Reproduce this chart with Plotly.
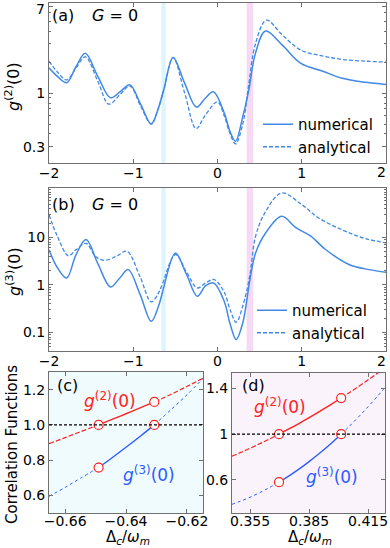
import plotly.graph_objects as go

# ---- panel (a): g2(0), G = 0 ----
a_num_x = [-2, -1.9, -1.79, -1.68, -1.57, -1.42, -1.27, -1.15, -1.04, -0.91, -0.786, -0.70,
           -0.649, -0.631, -0.527, -0.39, -0.25, -0.15, -0.05, 0.08, 0.15, 0.214, 0.30, 0.37,
           0.45, 0.571, 0.77, 0.99, 1.25, 1.48, 1.76, 2.0]
a_num_y = [1.76, 1.45, 1.26, 1.8, 2.43, 1.45, 0.90, 1.04, 1.2, 0.77, 0.5, 0.72,
           1.0, 1.13, 2.22, 1.25, 0.73, 0.88, 1.03, 0.64, 0.42, 0.34, 0.59, 1.05,
           2.43, 4.0, 2.92, 1.94, 1.63, 1.39, 1.27, 1.21]
a_ana_x = [-2, -1.9, -1.79, -1.68, -1.57, -1.42, -1.29, -1.15, -1.04, -0.91, -0.786, -0.70,
           -0.649, -0.631, -0.527, -0.39, -0.254, -0.15, 0.0, 0.08, 0.15, 0.214, 0.30, 0.37,
           0.45, 0.58, 0.77, 0.99, 1.25, 1.48, 1.76, 2.0]
a_ana_y = [2.04, 1.6, 1.34, 1.75, 2.25, 1.3, 0.78, 0.98, 1.17, 0.74, 0.5, 0.72,
           1.0, 1.13, 2.22, 1.0, 0.45, 0.6, 0.82, 0.6, 0.4, 0.32, 0.5, 1.2,
           3.0, 5.1, 3.66, 2.61, 2.29, 2.12, 2.04, 2.0]

# ---- panel (b): g3(0), G = 0 ----
b_num_x = [-2, -1.9, -1.79, -1.68, -1.56, -1.42, -1.27, -1.16, -1.06, -0.92, -0.786, -0.70,
           -0.649, -0.631, -0.5, -0.37, -0.24, -0.14, -0.045, 0.08, 0.15, 0.222, 0.30, 0.385,
           0.452, 0.571, 0.762, 0.93, 1.107, 1.286, 1.56, 1.8, 2.0]
b_num_y = [5.5, 2.3, 1.4, 4.3, 9.0, 2.8, 0.91, 1.4, 2.1, 0.64, 0.172, 0.36,
           0.75, 1.0, 4.7, 1.7, 0.58, 0.97, 1.1, 0.45, 0.15, 0.071, 0.16, 1.3,
           4.7, 12.4, 27.9, 16, 10.6, 5.5, 2.7, 2.1, 1.85]
b_ana_x = [-2, -1.9, -1.77, -1.68, -1.56, -1.45, -1.35, -1.2, -1.075, -0.92, -0.786, -0.70,
           -0.65, -0.5, -0.37, -0.24, -0.14, -0.04, 0.08, 0.15, 0.222, 0.30, 0.385,
           0.452, 0.571, 0.762, 1.0, 1.2, 1.5, 1.75, 2.0]
b_ana_y = [30, 10.5, 4.1, 5.5, 7.5, 4.0, 3.3, 4.0, 5.1, 1.5, 0.44, 0.68,
           1.1, 4.35, 1.9, 0.865, 1.1, 1.3, 0.7, 0.3, 0.164, 0.36, 1.65,
           10.6, 35, 86, 49, 25.7, 13.9, 9.5, 7.7]

# ---- panel (c): zoom near the cyan band ----
c_x = [-0.6653, -0.66, -0.655, -0.649, -0.645, -0.64, -0.635, -0.6307, -0.625, -0.62, -0.6147]
c_g2 = [0.893, 0.928, 0.961, 1.0, 1.028, 1.063, 1.099, 1.13, 1.175, 1.218, 1.264]
c_g3 = [0.595, 0.645, 0.697, 0.758, 0.808, 0.873, 0.94, 1.0, 1.09, 1.17, 1.264]
c_marks = [-0.649, -0.6307]

# ---- panel (d): zoom near the pink band ----
d_x = [0.3458, 0.35, 0.355, 0.36, 0.365, 0.3697, 0.375, 0.38, 0.385, 0.39, 0.395,
       0.4013, 0.405, 0.41, 0.415, 0.42, 0.4236]
d_g2 = [0.807, 0.838, 0.877, 0.917, 0.959, 1.0, 1.048, 1.095, 1.144, 1.195, 1.248,
        1.316, 1.358, 1.415, 1.475, 1.536, 1.581]
d_g3 = [0.386, 0.413, 0.448, 0.489, 0.534, 0.58, 0.637, 0.696, 0.76, 0.828, 0.901,
        1.0, 1.061, 1.148, 1.24, 1.336, 1.408]
d_marks = [0.3697, 0.4013]

BLUE = '#4189e6'
RED = '#ff2222'
DBLUE = '#2c5cff'
FONT = 'DejaVu Sans'
W, H = 390, 548


def px(x):
    return x / W


def py(y):
    return 1 - y / H


fig = go.Figure()

# (a)
fig.add_trace(go.Scatter(x=a_num_x, y=a_num_y, mode='lines', line=dict(color=BLUE, width=1.5, shape='spline'),
                         name='numerical', xaxis='x', yaxis='y', legend='legend'))
fig.add_trace(go.Scatter(x=a_ana_x, y=a_ana_y, mode='lines', line=dict(color=BLUE, width=1.3, dash='4px,2px', shape='spline'),
                         name='analytical', xaxis='x', yaxis='y', legend='legend'))
# (b)
fig.add_trace(go.Scatter(x=b_num_x, y=b_num_y, mode='lines', line=dict(color=BLUE, width=1.5, shape='spline'),
                         name='numerical', xaxis='x2', yaxis='y2', legend='legend2'))
fig.add_trace(go.Scatter(x=b_ana_x, y=b_ana_y, mode='lines', line=dict(color=BLUE, width=1.3, dash='4px,2px', shape='spline'),
                         name='analytical', xaxis='x2', yaxis='y2', legend='legend2'))


def zoom_panel(xs, g2, g3, marks, xa, ya):
    lo, hi = marks
    segs = [
        ([v for v in xs if v <= lo], 'outer'),
        ([v for v in xs if lo <= v <= hi], 'inner'),
        ([v for v in xs if v >= hi], 'outer'),
    ]
    for seg, kind in segs:
        idx = [xs.index(v) for v in seg]
        fig.add_trace(go.Scatter(
            x=seg, y=[g2[i] for i in idx], mode='lines', showlegend=False, xaxis=xa, yaxis=ya,
            line=dict(color=RED, width=1.4 if kind == 'inner' else 1.2,
                      dash='solid' if kind == 'inner' else '5px,2px', shape='spline')))
        fig.add_trace(go.Scatter(
            x=seg, y=[g3[i] for i in idx], mode='lines', showlegend=False, xaxis=xa, yaxis=ya,
            line=dict(color=DBLUE, width=1.4 if kind == 'inner' else 1.0,
                      dash='solid' if kind == 'inner' else 'dot', shape='spline')))
    mx = [marks[0], marks[1], marks[0], marks[1]]
    my = [g2[xs.index(marks[0])], g2[xs.index(marks[1])], g3[xs.index(marks[0])], g3[xs.index(marks[1])]]
    fig.add_trace(go.Scatter(x=mx, y=my, mode='markers', showlegend=False, xaxis=xa, yaxis=ya,
                             marker=dict(symbol='circle', size=9, color='white',
                                         line=dict(color=RED, width=1.2))))


zoom_panel(c_x, c_g2, c_g3, c_marks, 'x3', 'y3')
zoom_panel(d_x, d_g2, d_g3, d_marks, 'x4', 'y4')

axis_style = dict(showline=True, linecolor='#707070', linewidth=1, mirror='allticks', ticks='inside',
                  ticklen=4, tickcolor='#707070', showgrid=False, zeroline=False, automargin=False,
                  tickfont=dict(family=FONT, size=14, color='black'))
xstyle = dict(axis_style, ticklabelstandoff=-3)
xstyle_low = dict(axis_style, ticklabelstandoff=-5)

dom_ab = [px(49), px(386)]
fig.update_layout(
    template='none',
    width=W, height=H, margin=dict(l=0, r=0, t=0, b=0, pad=0),
    paper_bgcolor='white', plot_bgcolor='white',
    font=dict(family=FONT, color='black'),
    xaxis=dict(domain=dom_ab, anchor='y', range=[-2, 2], tickvals=[-2, -1, 0, 1], **xstyle),
    yaxis=dict(domain=[py(163), py(3)], anchor='x', type='log', range=[-0.68, 0.875],
               tickvals=[0.3, 1, 7], ticktext=['0.3', '1', ''],
               minor=dict(ticks='inside', ticklen=2, tickcolor='#707070',
                          tickvals=[0.2, 0.4, 0.5, 0.6, 0.7, 0.8, 0.9, 2, 3, 4, 5, 6]),
               **axis_style),
    xaxis2=dict(domain=dom_ab, anchor='y2', range=[-2, 2], tickvals=[-2, -1, 0, 1], **xstyle),
    yaxis2=dict(domain=[py(351), py(188)], anchor='x2', type='log', range=[-1.39, 2.04],
                tickvals=[0.1, 1, 10], ticktext=['0.1', '1', '10'],
                minor=dict(ticks='inside', ticklen=2, tickcolor='#707070',
                           tickvals=[0.05, 0.06, 0.07, 0.08, 0.09, 0.2, 0.3, 0.4, 0.5, 0.6, 0.7, 0.8, 0.9,
                                     2, 3, 4, 5, 6, 7, 8, 9, 20, 30, 40, 50, 60, 70, 80, 90, 100]),
                **axis_style),
    xaxis3=dict(domain=[px(49), px(203)], anchor='y3', range=[-0.6653, -0.6147],
                tickvals=[-0.66, -0.64, -0.62], ticktext=['−0.66', '−0.64', '−0.62'], **xstyle_low),
    yaxis3=dict(domain=[py(513), py(372)], anchor='x3', range=[0.5, 1.3],
                tickvals=[0.6, 0.8, 1.0, 1.2], ticktext=['0.6', '0.8', '1.0', '1.2'], **axis_style),
    xaxis4=dict(domain=[px(232), px(385)], anchor='y4', range=[0.3458, 0.4236],
                tickvals=[0.355, 0.385, 0.415], ticktext=['0.355', '0.385', '0.415'], **xstyle_low),
    yaxis4=dict(domain=[py(513), py(373)], anchor='x4', range=[0.31, 1.535],
                tickvals=[0.6, 1, 1.4], ticktext=['0.6', '1', '1.4'], **axis_style),
    legend=dict(x=px(258), y=py(108), xanchor='left', yanchor='top', bgcolor='rgba(0,0,0,0)',
                font=dict(family=FONT, size=15), tracegroupgap=0, itemwidth=30),
    legend2=dict(x=px(252), y=py(294), xanchor='left', yanchor='top', bgcolor='rgba(0,0,0,0)',
                 font=dict(family=FONT, size=15), tracegroupgap=0, itemwidth=30),
)

shapes = [
    dict(type='rect', xref='x', yref='y domain', x0=c_x[0], x1=c_x[-1], y0=0, y1=1,
         fillcolor='#dcf5fc', line_width=0, layer='below'),
    dict(type='rect', xref='x', yref='y domain', x0=d_x[0], x1=d_x[-1], y0=0, y1=1,
         fillcolor='#f5d9f5', line_width=0, layer='below'),
    dict(type='rect', xref='x2', yref='y2 domain', x0=c_x[0], x1=c_x[-1], y0=0, y1=1,
         fillcolor='#dcf5fc', line_width=0, layer='below'),
    dict(type='rect', xref='x2', yref='y2 domain', x0=d_x[0], x1=d_x[-1], y0=0, y1=1,
         fillcolor='#f5d9f5', line_width=0, layer='below'),
    dict(type='rect', xref='x3 domain', yref='y3 domain', x0=0, x1=1, y0=0, y1=1,
         fillcolor='#f0fbfd', line_width=0, layer='below'),
    dict(type='rect', xref='x4 domain', yref='y4 domain', x0=0, x1=1, y0=0, y1=1,
         fillcolor='#fbf3fb', line_width=0, layer='below'),
    dict(type='line', xref='x3 domain', yref='y3', x0=0, x1=1, y0=1, y1=1,
         line=dict(color='black', width=1.3, dash='3px,2px')),
    dict(type='line', xref='x4 domain', yref='y4', x0=0, x1=1, y0=1, y1=1,
         line=dict(color='black', width=1.3, dash='3px,2px')),
]
fig.update_layout(shapes=shapes)


def note(text, x, y, size=16, color='black', angle=0, yanchor='middle'):
    fig.add_annotation(text=text, x=px(x), y=py(y), xref='paper', yref='paper', showarrow=False,
                       textangle=angle, font=dict(family=FONT, size=size, color=color),
                       xanchor='center', yanchor=yanchor)


note('(a)', 63, 16)
note('<i>G</i> = 0', 115, 16)
note('(b)', 63, 205)
note('<i>G</i> = 0', 115, 205)
note('(c)', 67, 385)
note('(d)', 253, 385)
# tick labels that sit on the page edge in the reference, kept inside the page
note('7', 40, 9, size=14)
note('2', 381, 172, size=14)
note('2', 381, 361, size=14)
note('<i>g</i><sup>(2)</sup>(0)', 13, 87, angle=-90)
note('<i>g</i><sup>(3)</sup>(0)', 13, 272, angle=-90)
note('Correlation Functions', 12, 445, size=15, angle=-90)
note('Δ<sub><i>c</i></sub>/<i>ω</i><sub><i>m</i></sub>', 128, 549, size=15, yanchor='bottom')
note('Δ<sub><i>c</i></sub>/<i>ω</i><sub><i>m</i></sub>', 310, 549, size=15, yanchor='bottom')
note('<i>g</i><sup>(2)</sup>(0)', 110, 400, size=17, color=RED)
note('<i>g</i><sup>(3)</sup>(0)', 149, 474, size=17, color=DBLUE)
note('<i>g</i><sup>(2)</sup>(0)', 280, 406, size=17, color=RED)
note('<i>g</i><sup>(3)</sup>(0)', 332, 476, size=17, color=DBLUE)

# the page's default 8px body margin would push the figure off the window
fig.write_html("out.html", config={'displayModeBar': False},
               post_script="document.body.style.margin='0';")
